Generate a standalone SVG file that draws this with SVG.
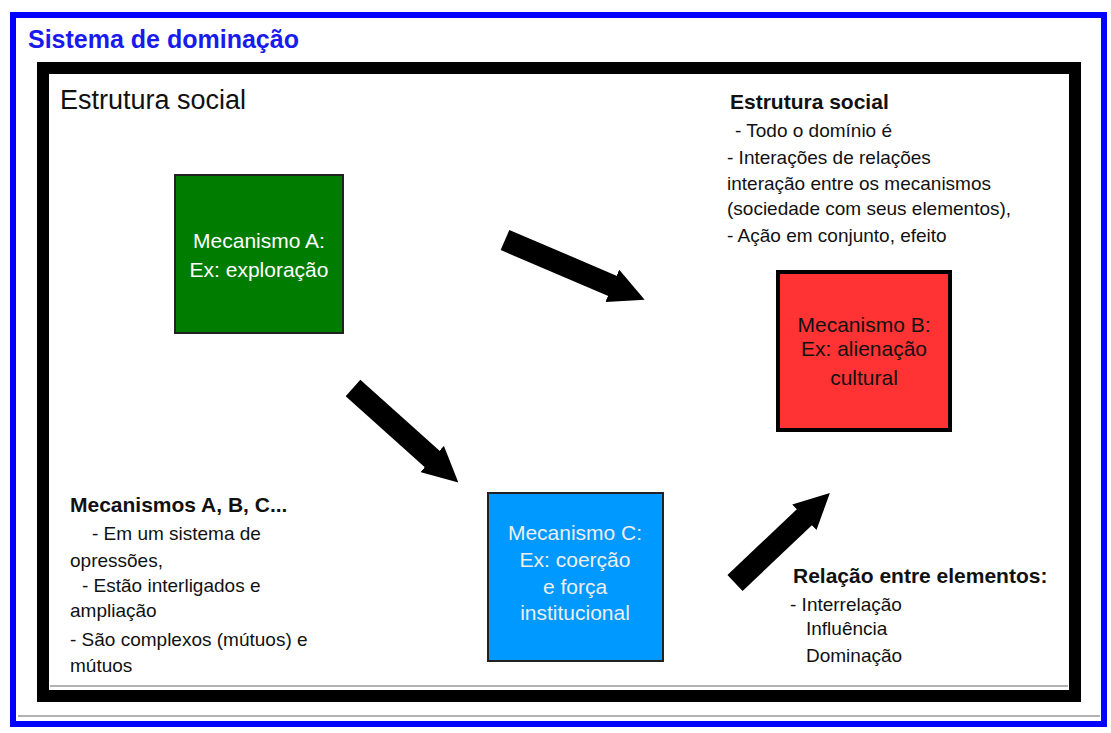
<svg xmlns="http://www.w3.org/2000/svg" width="1111" height="733" viewBox="0 0 1111 733">
<defs>
<style>
.t{font-family:"Liberation Sans",Arial,sans-serif;fill:#111}
.b{font-weight:bold}
.box{stroke:#222;stroke-width:2}
.lbl{font-family:"Liberation Sans",Arial,sans-serif;font-size:21px;text-anchor:middle}
.arr{stroke:#000;stroke-width:22;fill:none;stroke-linecap:butt}
</style>
<marker id="ah" viewBox="0 0 10 10" refX="3" refY="5" markerWidth="1.6" markerHeight="1.6" orient="auto">
<path d="M0,0 L10,5 L0,10 z" fill="#000"/>
</marker>
</defs>
<rect width="1111" height="733" fill="#fff"/>
<g id="outer-frame">
<rect x="13" y="15" width="1091" height="709" fill="none" stroke="#0000ff" stroke-width="6"/>
<line x1="18" y1="716" x2="1100" y2="716" stroke="#666" stroke-width="1"/>
<text x="28" y="48" class="t b" font-size="25" style="fill:#1a1aee">Sistema de dominação</text>
</g>
<g id="inner-frame">
<rect x="43" y="68" width="1032" height="628" fill="none" stroke="#000" stroke-width="12"/>
<line x1="50" y1="686" x2="1068" y2="686" stroke="#666" stroke-width="1"/>
<text x="60" y="109" class="t" font-size="27">Estrutura social</text>
</g>
<g id="connectors">
<line class="arr" x1="505" y1="240" x2="622" y2="290" marker-end="url(#ah)"/>
<line class="arr" x1="353" y1="388" x2="440" y2="466" marker-end="url(#ah)"/>
<line class="arr" x1="735" y1="583" x2="812" y2="510" marker-end="url(#ah)"/>
</g>
<g id="node-a">
<rect class="box" x="175" y="175" width="168" height="158" fill="#007d00"/>
<text class="lbl" x="259" y="248" fill="#fff">Mecanismo A:</text>
<text class="lbl" x="259" y="277" fill="#fff">Ex: exploração</text>
</g>
<g id="node-b">
<rect x="778" y="272" width="172" height="158" fill="#ff3333" stroke="#000" stroke-width="4"/>
<text class="lbl" x="864" y="332" fill="#111">Mecanismo B:</text>
<text class="lbl" x="864" y="356" fill="#111">Ex: alienação</text>
<text class="lbl" x="864" y="385" fill="#111">cultural</text>
</g>
<g id="node-c">
<rect class="box" x="488" y="493" width="175" height="168" fill="#0099ff"/>
<text class="lbl" x="575" y="540" fill="#eee">Mecanismo C:</text>
<text class="lbl" x="575" y="567" fill="#eee">Ex: coerção</text>
<text class="lbl" x="575" y="594" fill="#eee">e força</text>
<text class="lbl" x="575" y="620" fill="#eee">institucional</text>
</g>
<g id="note-structure">
<text x="730" y="109" class="t b" font-size="21">Estrutura social</text>
<text class="t" font-size="19">
<tspan x="735" y="137">- Todo o domínio é</tspan>
<tspan x="727" y="164">- Interações de relações</tspan>
<tspan x="727" y="190">interação entre os mecanismos</tspan>
<tspan x="727" y="215">(sociedade com seus elementos),</tspan>
<tspan x="727" y="242">- Ação em conjunto, efeito</tspan>
</text>
</g>
<g id="note-mechanisms">
<text x="70" y="512" class="t b" font-size="21">Mecanismos A, B, C...</text>
<text class="t" font-size="19">
<tspan x="92" y="540">- Em um sistema de</tspan>
<tspan x="70" y="567">opressões,</tspan>
<tspan x="82" y="592">- Estão interligados e</tspan>
<tspan x="70" y="617">ampliação</tspan>
<tspan x="70" y="646">- São complexos (mútuos) e</tspan>
<tspan x="70" y="672">mútuos</tspan>
</text>
</g>
<g id="note-relation">
<text x="793" y="583" class="t b" font-size="21">Relação entre elementos:</text>
<text class="t" font-size="19">
<tspan x="790" y="611">- Interrelação</tspan>
<tspan x="806" y="635">Influência</tspan>
<tspan x="806" y="662">Dominação</tspan>
</text>
</g>
</svg>
